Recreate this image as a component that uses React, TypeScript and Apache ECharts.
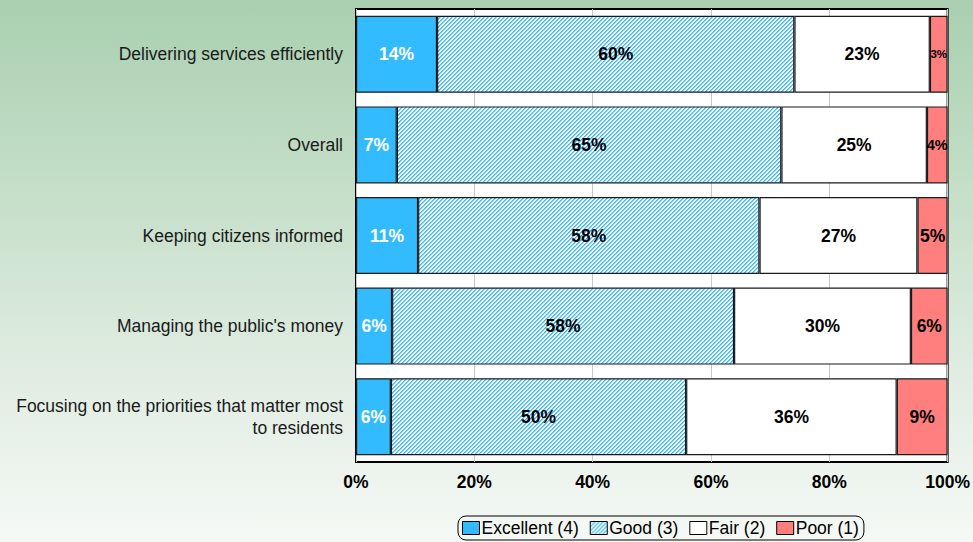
import React, { useEffect, useRef } from "react";
import * as echarts from "echarts";

const categories = [
  "Delivering services efficiently",
  "Overall",
  "Keeping citizens informed",
  "Managing the public's money",
  "Focusing on the priorities that matter most\nto residents",
];
const seriesNames = ["Excellent (4)", "Good (3)", "Fair (2)", "Poor (1)"];
const excellent = [13.7, 6.9, 10.5, 6.1, 5.9];
const good = [60.4, 65.0, 57.7, 57.8, 49.9];
const fair = [22.9, 24.6, 26.7, 29.9, 35.6];
const poor = [3.0, 3.5, 5.1, 6.2, 8.6];
const xTicks = [0, 20, 40, 60, 80, 100];

function makeHatch(): HTMLCanvasElement {
  const n = 4;
  const c = document.createElement("canvas");
  c.width = n;
  c.height = n;
  const ctx = c.getContext("2d")!;
  const img = ctx.createImageData(n, n);
  for (let y = 0; y < n; y++) {
    for (let x = 0; x < n; x++) {
      const k = (x + y) % n;
      let col = [255, 255, 255];
      if (k === 0) col = [51, 187, 255];
      else if (k === 1) col = [120, 208, 255];
      const i = (y * n + x) * 4;
      img.data[i] = col[0];
      img.data[i + 1] = col[1];
      img.data[i + 2] = col[2];
      img.data[i + 3] = 255;
    }
  }
  ctx.putImageData(img, 0, 0);
  return c;
}

export default function App() {
  const ref = useRef<HTMLDivElement>(null);
  useEffect(() => {
    if (!ref.current) return;
    const chart = echarts.init(ref.current, undefined, { renderer: "svg" });
    const hatch = makeHatch();
    const font = "'Liberation Sans', Arial, sans-serif";
    const colors: any[] = [
      "#33bbff",
      { image: hatch, repeat: "repeat" },
      "#ffffff",
      "#ff7f7f",
    ];
    const values = [excellent, good, fair, poor];
    const labelColors = ["#ffffff", "#000000", "#000000", "#000000"];
    const series = values.map((arr, si) => ({
      name: seriesNames[si],
      type: "bar",
      stack: "total",
      barCategoryGap: "15%",
      itemStyle: { color: colors[si], borderColor: "#1a1a1a", borderWidth: 1.2 },
      label: {
        show: true,
        position: "inside",
        fontFamily: font,
        fontWeight: "bold",
        fontSize: 17.5,
        color: labelColors[si],
        formatter: (p: any) => Math.round(p.value) + "%",
      },
      data: arr.map((v) => ({
        value: v,
        label: v < 4 ? { fontSize: v < 3.3 ? 11.5 : 14.5 } : undefined,
      })),
    }));
    chart.setOption({
      animation: false,
      backgroundColor: {
        type: "linear",
        x: 0,
        y: 0,
        x2: 0,
        y2: 1,
        colorStops: [
          { offset: 0, color: "#a9cfb0" },
          { offset: 0.4, color: "#c9e1cc" },
          { offset: 0.7, color: "#e1ede3" },
          { offset: 1, color: "#f5f9f5" },
        ],
      },
      grid: {
        left: 356,
        top: 9,
        right: 24,
        bottom: 80,
        show: true,
        backgroundColor: "#ffffff",
        borderColor: "#000000",
        borderWidth: 2,
        containLabel: false,
      },
      legend: {
        left: 458,
        top: 516,
        orient: "horizontal",
        data: seriesNames,
        icon: "rect",
        itemWidth: 17,
        itemHeight: 13,
        itemGap: 11,
        padding: [3, 5, 3, 4],
        borderColor: "#000000",
        borderWidth: 1,
        borderRadius: 8,
        backgroundColor: "transparent",
        itemStyle: { borderColor: "#000000", borderWidth: 1 },
        textStyle: { fontFamily: font, fontSize: 17.5, color: "#000", padding: [0, 0, 0, -3] },
      },
      xAxis: {
        type: "value",
        min: 0,
        max: 100,
        interval: 20,
        axisLine: { show: false },
        axisTick: { show: false },
        splitLine: { show: true, lineStyle: { color: "#c8c8c8", width: 1 } },
        axisLabel: {
          fontFamily: font,
          fontWeight: "bold",
          fontSize: 17.5,
          color: "#000",
          margin: 11,
          formatter: (v: number) => (xTicks.includes(v) ? v + "%" : ""),
        },
      },
      yAxis: {
        type: "category",
        inverse: true,
        data: categories,
        axisLine: { show: false },
        axisTick: { show: false },
        axisLabel: {
          fontFamily: font,
          fontSize: 17.5,
          color: "#1a1a1a",
          margin: 13,
          align: "right",
          lineHeight: 22,
        },
      },
      series,
    });
    return () => chart.dispose();
  }, []);
  return (
    <div
      ref={ref}
      style={{ position: "absolute", left: 0, top: 0, width: 973, height: 542 }}
    />
  );
}
